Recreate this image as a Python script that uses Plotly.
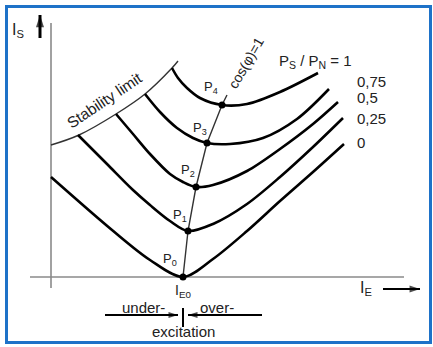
import plotly.graph_objects as go

# V-curves of a synchronous machine (arbitrary units)
# excitation current I_E (x) and stator current I_S (y)
ie_p0 = [0, 61, 99, 132, 162, 196, 229, 262, 293]
is_p0 = [100, 47, 17, 0, 18, 46, 76, 105, 133]

ie_p1 = [27, 56, 82, 99, 119, 137, 162, 196, 229, 262, 292]
is_p1 = [142, 113, 87, 72, 56, 46, 53, 73, 100, 130, 159]

ie_p2 = [65, 82, 99, 119, 132, 145, 162, 196, 229, 262, 287]
is_p2 = [163, 143, 123, 103, 95, 90, 92, 106, 128, 153, 175]

ie_p3 = [94, 109, 126, 142, 156, 179, 212, 246, 278]
is_p3 = [183, 165, 149, 139, 134, 133, 139, 158, 188]

ie_p4 = [121, 127, 136, 149, 171, 196, 229, 267]
is_p4 = [209, 199, 189, 179, 172, 173, 185, 204]

# stability limit
ie_stab = [0, 28, 65, 94, 121, 127]
is_stab = [132, 142, 163, 183, 209, 216]

# minima (cos(phi)=1 operating points) P0..P4 and end of the cos line
ie_min = [132, 137, 145, 156, 171]
is_min = [0, 46, 90, 134, 172]
ie_cos = ie_min + [176]
is_cos = is_min + [182]

ratio_labels = ["0,75", "0,5", "0,25", "0"]
ratio_label_y = [196, 180, 159, 135]
point_labels = ["P<sub>0</sub>", "P<sub>1</sub>", "P<sub>2</sub>", "P<sub>3</sub>", "P<sub>4</sub>"]

IE0 = 132

FONT = "Liberation Sans, Arial, sans-serif"
TXT = "#222222"
AX = "#8a8a8a"

fig = go.Figure()

# axes
fig.add_trace(go.Scatter(x=[0, 0], y=[-11, 254], mode="lines",
                         line=dict(color=AX, width=1.6), hoverinfo="skip"))
fig.add_trace(go.Scatter(x=[-21, 353], y=[0, 0], mode="lines",
                         line=dict(color=AX, width=1.6), hoverinfo="skip"))

# stability limit
fig.add_trace(go.Scatter(x=ie_stab, y=is_stab, mode="lines", line_shape="spline",
                         line=dict(color="#333333", width=1.4), hoverinfo="skip"))

# cos(phi)=1 line
fig.add_trace(go.Scatter(x=ie_cos, y=is_cos, mode="lines",
                         line=dict(color="#333333", width=1.4), hoverinfo="skip"))

for xs, ys in [(ie_p0, is_p0), (ie_p1, is_p1), (ie_p2, is_p2), (ie_p3, is_p3), (ie_p4, is_p4)]:
    fig.add_trace(go.Scatter(x=xs, y=ys, mode="lines", line_shape="spline",
                             line=dict(color="black", width=2.6, smoothing=0.9),
                             hoverinfo="skip"))

fig.add_trace(go.Scatter(x=ie_min, y=is_min, mode="markers",
                         marker=dict(color="black", size=7), hoverinfo="skip"))

ann = []
def txt(x, y, t, size=14, xanchor="center", angle=0, color=TXT):
    ann.append(dict(x=x, y=y, text=t, showarrow=False, xanchor=xanchor,
                    yanchor="middle", textangle=angle,
                    font=dict(family=FONT, size=size, color=color)))

txt(-33, 247, "I<sub>S</sub>", 16)
txt(315, -11, "I<sub>E</sub>", 16)
txt(IE0, -14, "I<sub>E0</sub>", 14)
txt(92, -30, "under-", 15)
txt(166, -30, "over-", 15)
txt(IE0, -54, "excitation", 15)
txt(226, 216, "P<sub>S</sub> / P<sub>N</sub> = 1", 15, "left")
for lab, yy in zip(ratio_labels, ratio_label_y):
    txt(304, yy, lab, 15, "left")
pl_offsets = [(-13, 18), (-8, 16), (-8, 17), (-7, 15), (-11, 18)]
for lab, xm, ym, (dx, dy) in zip(point_labels, ie_min, is_min, pl_offsets):
    txt(xm + dx, ym + dy, lab, 13)
txt(195, 214, "cos(φ)=1", 14, angle=-60)
txt(53, 177, "Stability limit", 15.5, angle=-34)


# arrows drawn as line traces with an arrow marker at the tip
def arrow(xs, ys, w=2.2, size=11):
    fig.add_trace(go.Scatter(x=xs, y=ys, mode="lines", line=dict(color="black", width=w),
                             hoverinfo="skip"))
    fig.add_trace(go.Scatter(x=xs, y=ys, mode="markers",
                             marker=dict(symbol="arrow", angleref="previous", color="black",
                                         size=[0, size], line=dict(width=0)),
                             hoverinfo="skip"))

arrow([-11, -11], [239, 262], w=3, size=13)
arrow([332, 369], [-12, -12], w=2, size=11)
arrow([54, 127], [-38, -38], w=1.8, size=10)
arrow([211, 137], [-38, -38], w=1.8, size=10)

shapes = [
    dict(type="line", xref="x", yref="y", x0=IE0, x1=IE0, y0=-31, y1=-50,
         line=dict(color="black", width=2)),
    dict(type="rect", xref="paper", yref="paper", x0=6.5 / 433, x1=430.5 / 433,
         y0=1 - 342.5 / 347, y1=1 - 6.5 / 347, line=dict(color="#1e72c8", width=3)),
]

fig.update_layout(
    width=433, height=347, autosize=False,
    margin=dict(l=0, r=0, t=0, b=0, pad=0),
    paper_bgcolor="white", plot_bgcolor="white",
    showlegend=False,
    xaxis=dict(range=[-51, 382], visible=False, fixedrange=True),
    yaxis=dict(range=[-70, 277], visible=False, fixedrange=True),
    annotations=ann, shapes=shapes,
)

fig.write_html("out.html", config={"displayModeBar": False},
               post_script="document.body.style.margin='0';")
